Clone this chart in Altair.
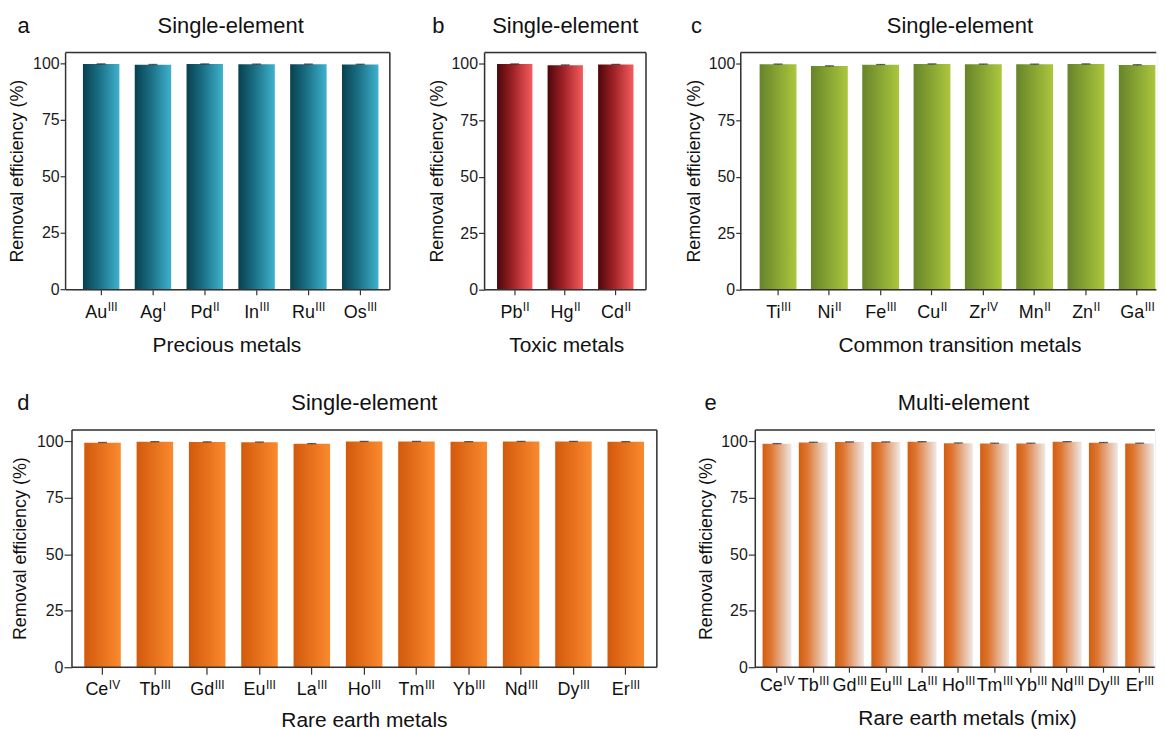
import altair as alt
import pandas as pd

FONT = "Liberation Sans"
LAB = 18      # element label size
SUP = 12      # oxidation-state superscript size

# ---------------- data ----------------
a_el = ["Au", "Ag", "Pd", "In", "Ru", "Os"]
a_ox = ["III", "I", "II", "III", "III", "III"]
a_val = [99.9, 99.6, 99.9, 99.8, 99.8, 99.7]
a_err = [0.10, 0.12, 0.08, 0.10, 0.10, 0.12]

b_el = ["Pb", "Hg", "Cd"]
b_ox = ["II", "II", "II"]
b_val = [99.9, 99.4, 99.7]
b_err = [0.08, 0.12, 0.10]

c_el = ["Ti", "Ni", "Fe", "Cu", "Zr", "Mn", "Zn", "Ga"]
c_ox = ["III", "II", "III", "II", "IV", "II", "II", "III"]
c_val = [99.8, 99.0, 99.6, 99.9, 99.8, 99.8, 99.9, 99.5]
c_err = [0.10, 0.12, 0.10, 0.08, 0.10, 0.08, 0.08, 0.12]

ree_el = ["Ce", "Tb", "Gd", "Eu", "La", "Ho", "Tm", "Yb", "Nd", "Dy", "Er"]
ree_ox = ["IV", "III", "III", "III", "III", "III", "III", "III", "III", "III", "III"]
d_val = [99.4, 99.8, 99.7, 99.6, 98.9, 99.9, 99.9, 99.8, 99.9, 99.9, 99.8]
d_err = [0.10, 0.08, 0.08, 0.10, 0.12, 0.08, 0.08, 0.08, 0.08, 0.08, 0.10]
e_val = [98.9, 99.5, 99.7, 99.7, 99.8, 99.2, 99.1, 99.1, 99.8, 99.4, 99.1]
e_err = [0.12, 0.10, 0.08, 0.08, 0.08, 0.10, 0.10, 0.10, 0.08, 0.10, 0.10]

y_ticks = [0, 25, 50, 75, 100]
YTITLE = "Removal efficiency (%)"

# approximate advance widths (em) for label centering
CW = {"A": .667, "C": .722, "D": .722, "E": .667, "F": .611, "G": .778, "H": .722,
      "I": .278, "L": .556, "M": .833, "N": .722, "O": .778, "P": .667, "R": .722,
      "T": .611, "V": .667, "Y": .667, "Z": .611,
      "a": .556, "b": .556, "c": .5, "d": .556, "e": .556, "g": .556, "h": .556,
      "i": .222, "l": .222, "m": .833, "n": .556, "o": .556, "r": .333, "s": .5,
      "t": .278, "u": .556, "y": .5}

FRAME = "#333333"
TICKC = "#333333"
LEFT_EXT = 63.5   # uniform left extent of every panel (invisible guide)


def tw(s, size):
    return sum(CW.get(ch, .556) for ch in s) * size


def panel(p):
    el, ox, val, err = p["el"], p["ox"], p["val"], p["err"]
    n = len(el)
    W, H = p["W"], p["H"]
    pin, pout = p["pin"], p["pout"]
    shift = p.get("shift", 0)
    fx = -shift                      # frame / y-axis position relative to plot origin
    step = W / (n - pin + 2 * pout)
    bw = step * (1 - pin)
    offs = [bw / 2 + (tw(e, LAB) - tw(o, SUP)) / 2 for e, o in zip(el, ox)]
    df = pd.DataFrame({
        "el": el, "ox": ox, "val": val,
        "lo": [v - e for v, e in zip(val, err)],
        "hi": [v + e for v, e in zip(val, err)],
        "off": offs,
    })
    xs = alt.Scale(domain=el, paddingInner=pin, paddingOuter=pout, align=p["align"])
    X = alt.X("el:N", sort=el, scale=xs,
              axis=alt.Axis(labels=False, title=None, domain=False, ticks=True,
                            grid=False, tickSize=p["xtick"], tickColor=TICKC,
                            tickWidth=1.2))
    Xp = alt.X("el:N", sort=el)
    ys = alt.Scale(domain=[0, 105], nice=False)
    if shift:
        Y = alt.Y("val:Q", scale=ys, axis=None)
        Ylo = alt.Y("lo:Q", axis=None)
        Yhi = alt.Y("hi:Q", axis=None)
    else:
        Y = alt.Y("val:Q", scale=ys,
                  axis=alt.Axis(values=y_ticks, title=None,
                                tickSize=p["ytick"], labelPadding=1, labelFontSize=16,
                                labelFont=FONT, labelColor="#1a1a1a", tickColor=TICKC,
                                tickWidth=1.2, domain=False, grid=False))
        Ylo = alt.Y("lo:Q", title=None)
        Yhi = alt.Y("hi:Q", title=None)
    grad = alt.LinearGradient(
        gradient="linear",
        stops=[alt.GradientStop(offset=o, color=c) for o, c in p["stops"]],
        x1=0, x2=1, y1=0, y2=0)
    base = alt.Chart(df)
    bars = base.mark_bar(color=grad).encode(x=X, y=Y)
    rule = base.mark_rule(color="#222", strokeWidth=1).encode(x=Xp, y=Ylo, y2="hi:Q")
    cap = base.mark_tick(color="#222", thickness=1.3, size=9).encode(x=Xp, y=Yhi)
    ybase = H + p["lab_dy"]
    lab = base.mark_text(align="right", baseline="alphabetic", font=FONT,
                         fontSize=LAB, color="#111").encode(
        x=Xp, xOffset=alt.XOffset("off:Q", scale=None),
        y=alt.value(ybase), text="el:N")
    sup = base.mark_text(align="left", baseline="alphabetic", font=FONT,
                         fontSize=SUP, color="#111", dx=0.5).encode(
        x=Xp, xOffset=alt.XOffset("off:Q", scale=None),
        y=alt.value(ybase - p["sup_rise"]), text="ox:N")
    layers = [bars, rule, cap, lab, sup]

    if shift:
        tdf = pd.DataFrame({"v": y_ticks})
        layers.append(alt.Chart(tdf).mark_rule(color=TICKC, strokeWidth=1.2).encode(
            x=alt.value(fx), x2=alt.value(fx - p["ytick"]),
            y=alt.Y("v:Q", axis=None)))
        layers.append(alt.Chart(tdf).mark_text(
            align="right", baseline="middle", font=FONT, fontSize=16,
            color="#1a1a1a").encode(
            x=alt.value(fx - p["ytick"] - 1), y=alt.Y("v:Q", axis=None), text="v:Q"))

    one = pd.DataFrame({"k": [0]})

    def txt(t, x, y, size, align="center", baseline="alphabetic", angle=0):
        kw = dict(align=align, baseline=baseline, font=FONT, fontSize=size, color="#111")
        if angle:
            kw["angle"] = angle
        return alt.Chart(pd.DataFrame({"t": [t]})).mark_text(**kw).encode(
            x=alt.value(x), y=alt.value(y), text="t:N")

    def line(opacity=1, color=FRAME, width=1.5, **enc):
        return alt.Chart(one).mark_rule(color=color, strokeWidth=width,
                                        opacity=opacity).encode(
            **{k: alt.value(v) for k, v in enc.items()})

    # white masks over any default view outline that is not part of the frame
    if shift:
        layers.append(line(color="white", width=2.4, x=0, y=1, y2=H - 1))
    if not p["right"]:
        layers.append(line(color="white", width=1.4, x=W, y=1, y2=H - 1))

    layers += [line(x=fx, y=0, y2=H), line(x=fx, x2=W, y=0), line(x=fx, x2=W, y=H)]
    if p["right"]:
        layers.append(line(x=W, y=0, y2=H))
        layers.append(line(opacity=0, x=W + 1, y=0, y2=10))
    layers.append(line(opacity=0, x=-LEFT_EXT, y=0, y2=10))

    layers.append(txt(p["title"], p["cx_t"], -20, 22))
    layers.append(txt(p["letter"], p["letter_x"], -20, 22, align="left"))
    layers.append(txt(p["xtitle"], p["cx_x"], H + p["xt_dy"], 21))
    layers.append(txt(YTITLE, p["yt_x"], H / 2, 18, baseline="bottom", angle=270))
    return alt.layer(*layers).properties(width=W, height=H)


P_a = dict(el=a_el, ox=a_ox, val=a_val, err=a_err, W=319, H=238, shift=6.4,
           pin=0.296, pout=0.2154, align=0.491, xtick=5, ytick=5, lab_dy=28,
           sup_rise=6.5, xt_dy=63, yt_x=-45, letter="a", letter_x=-54.7,
           title="Single-element", cx_t=159.3, xtitle="Precious metals", cx_x=155.5,
           right=True, stops=[(0, "#08404f"), (0.45, "#1a7085"), (1, "#3fb2ce")])
P_b = dict(el=b_el, ox=b_ox, val=b_val, err=b_err, W=162, H=238,
           pin=0.3, pout=0.247, align=0.5, xtick=5, ytick=6, lab_dy=28,
           sup_rise=6.5, xt_dy=63, yt_x=-37.6, letter="b", letter_x=-52.5,
           title="Single-element", cx_t=81, xtitle="Toxic metals", cx_x=82.5,
           right=True, stops=[(0, "#4d060a"), (0.45, "#a02226"), (1, "#f55c5f")])
P_c = dict(el=c_el, ox=c_ox, val=c_val, err=c_err, W=417, H=238,
           pin=0.2816, pout=0.189, align=0.974, xtick=5, ytick=5, lab_dy=28,
           sup_rise=6.5, xt_dy=63, yt_x=-37.3, letter="c", letter_x=-50,
           title="Single-element", cx_t=220, xtitle="Common transition metals", cx_x=220,
           right=False, stops=[(0, "#66842a"), (1, "#abc73d")])
P_d = dict(el=ree_el, ox=ree_ox, val=d_val, err=d_err, W=587, H=238,
           pin=0.302, pout=0.24, align=0.49, xtick=7, ytick=8, lab_dy=28,
           sup_rise=6.5, xt_dy=60, yt_x=-41.7, letter="d", letter_x=-55,
           title="Single-element", cx_t=293.5, xtitle="Rare earth metals", cx_x=293.5,
           right=True, stops=[(0, "#d2590c"), (1, "#fb8a2e")])
P_e = dict(el=ree_el, ox=ree_ox, val=e_val, err=e_err, W=401, H=238,
           pin=0.203, pout=0.11, align=0.9125, xtick=5, ytick=7, lab_dy=24,
           sup_rise=6.5, xt_dy=58, yt_x=-39.3, letter="e", letter_x=-51,
           title="Multi-element", cx_t=209, xtitle="Rare earth metals (mix)", cx_x=213,
           right=False, stops=[(0, "#d35d10"), (0.3, "#de7733"), (1, "#efe8e6")])

top = alt.hconcat(panel(P_a), panel(P_b), panel(P_c), spacing=29.1)
bottom = alt.hconcat(panel(P_d), panel(P_e), spacing=32.8)

chart = alt.vconcat(top, bottom, spacing=33.9).properties(
    padding={"left": 0.2, "top": 4.4, "right": 0, "bottom": 0}
).configure_view(stroke="transparent", strokeWidth=0, strokeOpacity=0).configure(
    background="white")

chart.save("out.html", embed_options={"renderer": "svg", "actions": False})
